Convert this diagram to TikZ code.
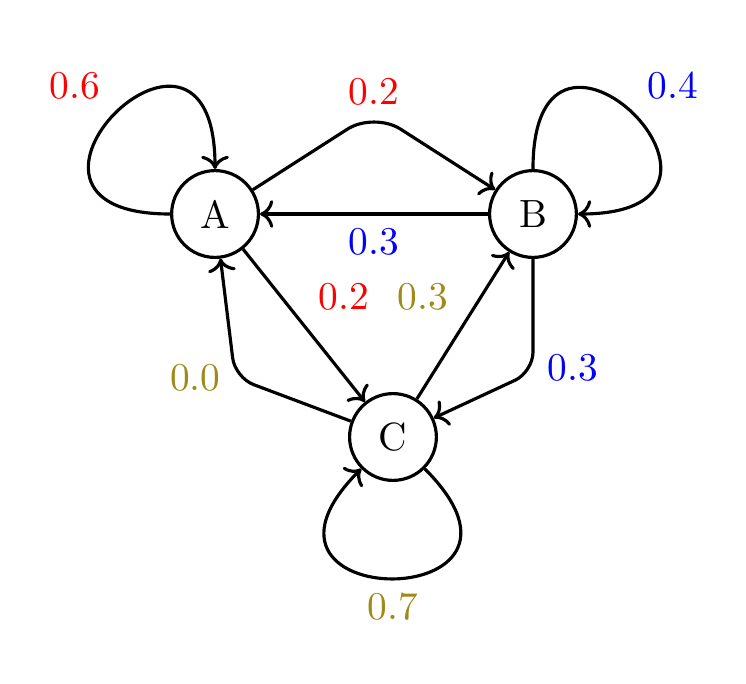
\documentclass[tikz,border=0pt]{standalone}
\usepackage{tikz}
\usetikzlibrary{positioning,calc,arrows.meta}
\definecolor{darkgold}{RGB}{158,138,24}
\tikzstyle{chainstate} = [circle, thick, draw=black, minimum size=0.775cm, inner sep=0cm]
\tikzstyle{transition} = [thick, ->, rounded corners=5pt]
\tikzstyle{selfloop} = [thick, ->, distance=1.85cm]

\begin{document}
\begin{tikzpicture}
        \useasboundingbox (-1.92,-4.196) rectangle (4.741,1.911);
        % States -----------------------------------------------------------------------------------
        \node[chainstate](A){A};
        \node[chainstate, right=2.036cm of A](B){B};
        \node[chainstate, below=1.188cm of A, xshift=1.589cm](C){C};
        % Self loops -------------------------------------------------------------------------------
        \draw[selfloop] (A) to[out=180, in=90] node[above left, text=red]{0.6} (A);
        \draw[selfloop] (B) to[out=90, in=0] node[above right, text=blue]{0.4} (B);
        \draw[selfloop] (C) to[out=-45, in=-135] node[below, text=darkgold]{0.7} (C);
        % Transitions ------------------------------------------------------------------------------
        \draw[transition, rounded corners=8pt] (A) -- ($(A)!0.5!(B)+(0,0.91)$) node[above=-2pt, text=red]{0.2} -- (B);
        \draw[transition] (B) -- node[below, text=blue]{0.3} (A);
        \draw[transition] (A) -- node[above right, text=red]{0.2} (C);
        \draw[transition] (C) -- node[above left, text=darkgold]{0.3} (B);
        \draw[transition] (B) -- ++(0,-1.41) node[right, yshift=1pt, text=blue]{0.3} -- (C);
        \draw[transition] (C) -- ++(-1.41,0.53) node[left, text=darkgold]{0.0} -- (A);
    \end{tikzpicture}
\end{document}
